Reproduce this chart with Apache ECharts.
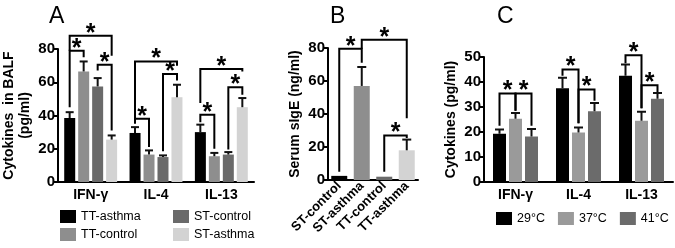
<!DOCTYPE html>
<html>
<head>
<meta charset="utf-8">
<script src="https://cdn.jsdelivr.net/npm/echarts@6/dist/echarts.min.js"></script>
<style>
html, body { margin: 0; padding: 0; background: #fff; }
#main { width: 675px; height: 248px; }
</style>
</head>
<body>
<div id="main"></div>
<script>
// panel A - cytokines in BALF
var catsA = ['IFN-γ', 'IL-4', 'IL-13'];
var namesA = ['TT-asthma', 'TT-control', 'ST-control', 'ST-asthma'];
var valsA = [
    [38.5, 29.5, 30],
    [66.5, 16.5, 15.5],
    [57.5, 15, 16.5],
    [25.5, 51, 45]
];
var errA = [
    [3.5, 3.5, 4.5],
    [6, 2.5, 2],
    [5, 1, 1.5],
    [2.5, 7.5, 5.5]
];
// [catA, barA, catB, barB, top, legA bottom, legB bottom]
var sigA = [
    [0, 0, 0, 1, 79, 45, 75],
    [0, 0, 0, 3, 88, 79, 76],
    [0, 2, 0, 3, 70.5, 67, 31],
    [1, 0, 1, 1, 38, 35, 21],
    [1, 0, 1, 3, 72.5, 38, 70],
    [1, 2, 1, 3, 65, 18.5, 61],
    [2, 0, 2, 1, 40.5, 36, 20],
    [2, 0, 2, 3, 68, 47.5, 66.5],
    [2, 2, 2, 3, 57, 19.5, 52.5]
];
var ticksA = [0, 20, 40, 60, 80];

// panel B - serum sIgE
var catsB = ['ST-control', 'ST-asthma', 'TT-control', 'TT-asthma'];
var valsB = [2.5, 57, 2, 18];
var errB = [0, 11.5, 0, 6.5];
var sigB = [
    [0, 0, 1, 0, 79.5, 5, 71],
    [1, 0, 3, 0, 85, 79.5, 37.5],
    [2, 0, 3, 0, 27, 5, 25.5]
];
var ticksB = [0, 20, 40, 60, 80];

// panel C - cytokines by temperature
var catsC = ['IFN-γ', 'IL-4', 'IL-13'];
var namesC = ['29°C', '37°C', '41°C'];
var valsC = [
    [19.3, 37.5, 42.5],
    [25.3, 19.8, 24.5],
    [18.2, 28.3, 33.3]
];
var errC = [
    [1.7, 4.2, 4.5],
    [2.3, 2, 3.6],
    [3, 3.3, 2.3]
];
var sigC = [
    [0, 0, 0, 1, 35.4, 22.5, 28.5],
    [0, 1, 0, 2, 35.4, 28.5, 22.5],
    [1, 0, 1, 1, 45, 42.5, 23.5],
    [1, 1, 1, 2, 37, 23.5, 32.5],
    [2, 0, 2, 1, 50.7, 47.5, 29.5],
    [2, 1, 2, 2, 38.7, 29.5, 36]
];
var ticksC = [0, 10, 20, 30, 40, 50];

var colorsA = ['#000000', '#8e8e8e', '#6a6a6a', '#d3d3d3'];
var colorsB = ['#000000', '#8e8e8e', '#6a6a6a', '#d3d3d3'];
var colorsC = ['#000000', '#9a9a9a', '#6b6b6b'];

var FONT = '"Liberation Sans", Arial, sans-serif';

function errFor(idx, vals, errs, s, n, pitch, cap) {
    var off = (s - (n - 1) / 2) * pitch;
    return {
        type: 'custom',
        xAxisIndex: idx, yAxisIndex: idx,
        silent: true, z: 5,
        data: vals.map(function (v, i) { return [i, v, errs[i], off]; }),
        renderItem: function (params, api) {
            if (!api.value(2)) return null;
            var b = api.coord([api.value(0), api.value(1)]);
            var t = api.coord([api.value(0), api.value(1) + api.value(2)]);
            var x = b[0] + api.value(3);
            return {
                type: 'group',
                children: [
                    {type: 'line', shape: {x1: x, y1: b[1], x2: x, y2: t[1]}, style: {stroke: '#111', lineWidth: 2}},
                    {type: 'line', shape: {x1: x - cap / 2, y1: t[1], x2: x + cap / 2, y2: t[1]}, style: {stroke: '#111', lineWidth: 2}}
                ]
            };
        }
    };
}

function sigSeries(idx, sig, n, pitch) {
    return {
        type: 'custom',
        xAxisIndex: idx, yAxisIndex: idx,
        silent: true, z: 6, clip: false,
        data: sig,
        renderItem: function (params, api) {
            var xa = api.coord([api.value(0), 0])[0] + (api.value(1) - (n - 1) / 2) * pitch;
            var xb = api.coord([api.value(2), 0])[0] + (api.value(3) - (n - 1) / 2) * pitch;
            var yt = api.coord([0, api.value(4)])[1];
            var ya = api.coord([0, api.value(5)])[1];
            var yb = api.coord([0, api.value(6)])[1];
            return {
                type: 'group',
                children: [
                    {type: 'polyline', shape: {points: [[xa, ya], [xa, yt], [xb, yt], [xb, yb]]},
                        style: {stroke: '#000', lineWidth: 2, fill: null}},
                    {type: 'text', x: (xa + xb) / 2, y: yt - 2,
                        style: {text: '*', font: 'bold 25px ' + FONT, fill: '#000', align: 'center', verticalAlign: 'middle'}}
                ]
            };
        }
    };
}

function xAx(idx, cats, rotate) {
    return {
        type: 'category', gridIndex: idx, data: cats,
        axisLine: {lineStyle: {color: '#000', width: 2}},
        axisTick: {alignWithLabel: true, length: 4, lineStyle: {color: '#000', width: 1.5}},
        axisLabel: {color: '#000', fontFamily: FONT, fontWeight: 'bold', fontSize: rotate ? 13 : 14,
            rotate: rotate || 0, margin: rotate ? 4 : 6, interval: 0}
    };
}

function yAx(idx, max, step, name, gap) {
    return {
        type: 'value', gridIndex: idx, min: 0, max: max, interval: step,
        name: name, nameLocation: 'middle', nameRotate: 90, nameGap: gap,
        nameTextStyle: {color: '#000', fontFamily: FONT, fontWeight: 'bold', fontSize: 14, lineHeight: 16},
        splitLine: {show: false},
        axisLine: {show: true, lineStyle: {color: '#000', width: 2}},
        axisTick: {show: true, length: 4, lineStyle: {color: '#000', width: 2}},
        axisLabel: {color: '#000', fontFamily: FONT, fontWeight: 'bold', fontSize: 15, margin: 3}
    };
}

var series = [];
namesA.forEach(function (nm, s) {
    series.push({
        type: 'bar', name: nm, xAxisIndex: 0, yAxisIndex: 0,
        data: valsA[s], barWidth: 11, barGap: '27%',
        itemStyle: {color: colorsA[s]}
    });
});
namesA.forEach(function (nm, s) {
    series.push(errFor(0, valsA[s], errA[s], s, 4, 14, 8));
});
series.push(sigSeries(0, sigA, 4, 14));

series.push({
    type: 'bar', name: 'sIgE', xAxisIndex: 1, yAxisIndex: 1, barWidth: 16,
    data: valsB.map(function (v, i) { return {value: v, itemStyle: {color: colorsB[i]}}; })
});
series.push(errFor(1, valsB, errB, 0, 1, 0, 9));
series.push(sigSeries(1, sigB, 1, 0));

namesC.forEach(function (nm, s) {
    series.push({
        type: 'bar', name: nm, xAxisIndex: 2, yAxisIndex: 2,
        data: valsC[s], barWidth: 13, barGap: '23%',
        itemStyle: {color: colorsC[s]}
    });
});
namesC.forEach(function (nm, s) {
    series.push(errFor(2, valsC[s], errC[s], s, 3, 16, 9));
});
series.push(sigSeries(2, sigC, 3, 16));

var legendText = {color: '#000', fontFamily: FONT, fontSize: 12.5};

var option = {
    animation: false,
    backgroundColor: '#fff',
    title: [
        {text: 'A', left: 44, top: 0, textStyle: {fontFamily: FONT, fontSize: 23, fontWeight: 'normal', color: '#000'}},
        {text: 'B', left: 325, top: 0, textStyle: {fontFamily: FONT, fontSize: 23, fontWeight: 'normal', color: '#000'}},
        {text: 'C', left: 492, top: 0, textStyle: {fontFamily: FONT, fontSize: 23, fontWeight: 'normal', color: '#000'}}
    ],
    legend: [
        {data: namesA.slice(0, 2), orient: 'vertical', left: 55, top: 205, itemWidth: 16, itemHeight: 13,
            itemGap: 5, icon: 'rect', textStyle: legendText, selectedMode: false},
        {data: namesA.slice(2), orient: 'vertical', left: 168, top: 205, itemWidth: 16, itemHeight: 13,
            itemGap: 5, icon: 'rect', textStyle: legendText, selectedMode: false},
        {data: namesC, orient: 'horizontal', left: 491, top: 207, itemWidth: 16, itemHeight: 13,
            itemGap: 13, icon: 'rect', textStyle: legendText, selectedMode: false}
    ],
    grid: [
        {left: 56, top: 49, width: 198, height: 133},
        {left: 328, top: 48, width: 90, height: 132},
        {left: 484, top: 57, width: 189, height: 125}
    ],
    xAxis: [xAx(0, catsA), xAx(1, catsB, 45), xAx(2, catsC)],
    yAxis: [
        yAx(0, ticksA[ticksA.length - 1], ticksA[1] - ticksA[0], 'Cytokines  in BALF\n(pg/ml)', 25),
        yAx(1, ticksB[ticksB.length - 1], ticksB[1] - ticksB[0], 'Serum sIgE (ng/ml)', 25),
        yAx(2, ticksC[ticksC.length - 1], ticksC[1] - ticksC[0], 'Cytokines (pg/ml)', 25)
    ],
    series: series
};

var myChart = echarts.init(document.getElementById('main'));
myChart.setOption(option);
</script>
</body>
</html>
